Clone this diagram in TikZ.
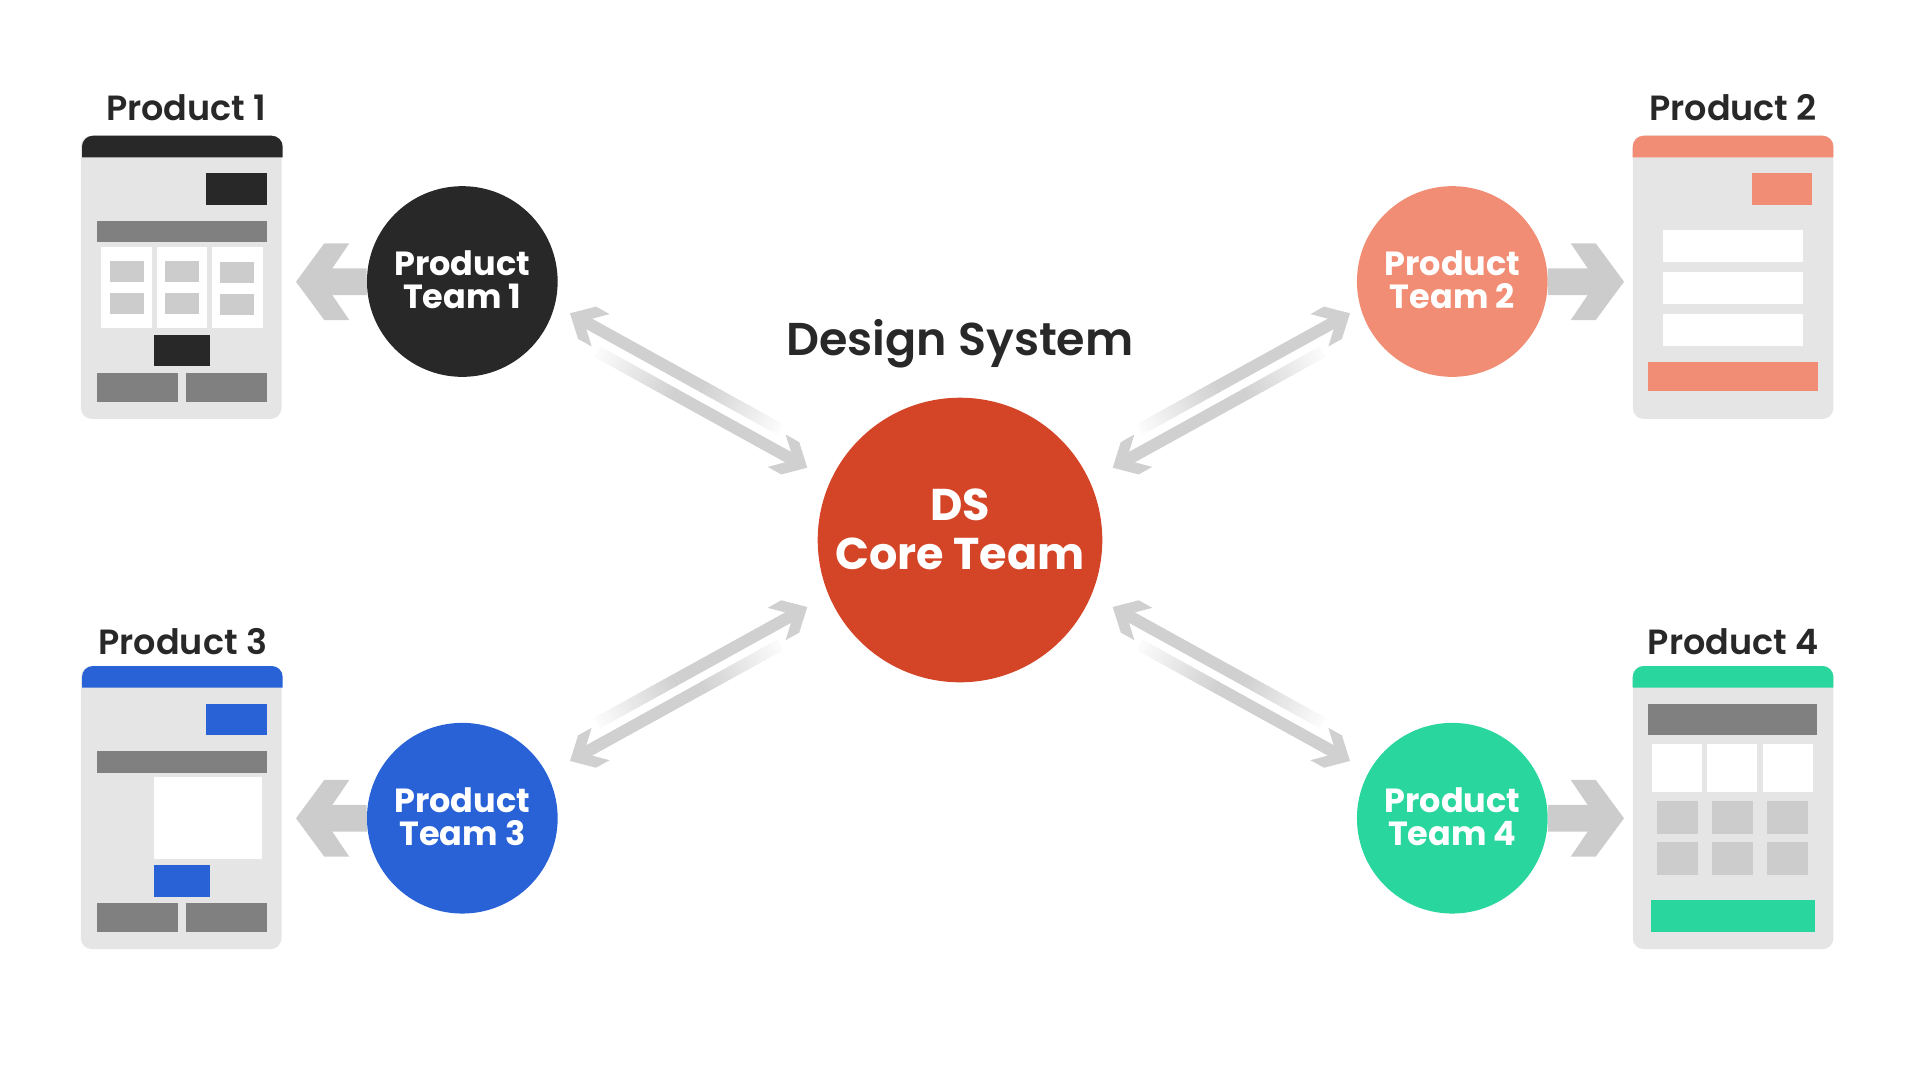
\documentclass[tikz,border=0pt]{standalone}
\usepackage{fontspec}
\usepackage{xcolor}
\usetikzlibrary{positioning}
\usetikzlibrary{calc}
\newfontfamily\headfont{Poppins}[UprightFont=* SemiBold]
\newfontfamily\teamfont{Poppins}[UprightFont=* Bold]
\definecolor{inkblack}{HTML}{282828}
\definecolor{teamorange}{HTML}{F18D74}
\definecolor{teamblue}{HTML}{2962D6}
\definecolor{teamgreen}{HTML}{29D69D}
\definecolor{corered}{HTML}{D44527}
\definecolor{pagegray}{HTML}{E5E5E5}
\definecolor{bargray}{HTML}{808080}
\definecolor{cellgray}{HTML}{CCCCCC}
\definecolor{linkgray}{HTML}{D0D0D0}
\tikzset{
linkhead/.pic={\fill[linkgray] (0,0) -- (19.5,-18.5) -- (35,-18.5) -- (22,-6) -- (22,6) -- (35,18.5) -- (19.5,18.5) -- cycle;},
teamhead/.pic={\fill[cellgray] (-36.3,0) -- (-8,-38.4) -- (17,-38.4) -- (0,-13.3) -- (0,13.3) -- (17,38.4) -- (-8,38.4) -- cycle;},
}
\newcommand{\linkarrow}[3]{%
\draw[linkshaft] (#1) -- ($(#1)!0.62!(#2)$);
\foreach \s in {0,...,23} {
\pgfmathsetmacro{\fa}{0.62+0.38*\s/24}
\pgfmathsetmacro{\fb}{min(1,0.62+0.38*(\s+1.4)/24)}
\pgfmathsetmacro{\tone}{100-92*\s/23}
\draw[linkfade, draw=linkgray!\tone!white] ($(#1)!\fa!(#2)$) -- ($(#1)!\fb!(#2)$);
}
\pic[rotate=#3] at (#1) {linkhead};
}
\newcommand{\pagehead}[3]{%
\fill[#1] (#2,#3+21.6) [rounded corners=11pt] -- (#2,#3) -- (#2+200.7,#3) [sharp corners] -- (#2+200.7,#3+21.6) -- cycle;
}
\begin{document}
\begin{tikzpicture}[
x=1pt, y=-1pt,
corenode/.style={circle, fill=corered, text=white, minimum size=284.6pt, inner sep=0pt, align=center, text depth=22pt, font=\teamfont\fontsize{44.5}{48.3}\selectfont},
teamnode/.style={circle, text=white, minimum size=190.7pt, inner sep=0pt, align=center, text depth=3.5pt, font=\teamfont\fontsize{33.5}{33.3}\selectfont},
pagenode/.style={rectangle, fill=pagegray, rounded corners=11pt, minimum width=200.7pt, minimum height=283.3pt, inner sep=0pt},
titlenode/.style={text=inkblack, inner sep=0pt, font=\headfont\fontsize{35}{38}\selectfont},
linkshaft/.style={draw=linkgray, line width=12pt, shorten <=21pt},
linkfade/.style={line width=12pt},
teamlink/.style={draw=cellgray, line width=26.7pt, shorten >=-5pt},
barfill/.style={fill=bargray},
cellfill/.style={fill=cellgray},
whitefill/.style={fill=white},
]
\useasboundingbox (0,0) rectangle (1920,1080);

%Nodes
\node[corenode]							(core)		at (960,540)		{DS\\Core Team};
\node[text=inkblack, inner sep=0pt, anchor=base, font=\headfont\fontsize{46}{48}\selectfont] (dstitle) at (960,355) {Design System};
\node[teamnode, fill=inkblack]			(team1)		at (462.3,281.5)	{Product\\Team 1};
\node[teamnode, fill=teamorange]		(team2)		at (1452.3,281.5)	{Product\\Team 2};
\node[teamnode, fill=teamblue]			(team3)		at (462.3,818.2)	{Product\\Team 3};
\node[teamnode, fill=teamgreen]			(team4)		at (1452.3,818.2)	{Product\\Team 4};
\node[pagenode]		(page1)		[left=85pt of team1, yshift=4.2pt]		{};
\node[pagenode]		(page2)		[right=84.7pt of team2, yshift=4.2pt]	{};
\node[pagenode]		(page3)		[left=85pt of team3, yshift=10.7pt]		{};
\node[pagenode]		(page4)		[right=84.7pt of team4, yshift=10.7pt]	{};
\node[titlenode]	(title1)	[above=14.2pt of page1, xshift=5pt]		{Product 1};
\node[titlenode]	(title2)	[above=14.2pt of page2]					{Product 2};
\node[titlenode]	(title3)	[above=10.5pt of page3, xshift=1.5pt]	{Product 3};
\node[titlenode]	(title4)	[above=10.5pt of page4]					{Product 4};

\coordinate (head1) at (332.3,281.7);
\coordinate (head2) at (1587.7,281.7);
\coordinate (head3) at (332.3,818.3);
\coordinate (head4) at (1587.7,818.3);

%Team arrows
\foreach \t in {1,...,4} {\draw[teamlink] (team\t) -- (head\t);}
\pic at (head1) {teamhead};
\pic[rotate=180] at (head2) {teamhead};
\pic at (head3) {teamhead};
\pic[rotate=180] at (head4) {teamhead};

%Core arrows
\coordinate (t1tip) at (570,313.3);		\coordinate (t1end) at (780,429.3);
\coordinate (c1tip) at (807.3,467.7);	\coordinate (c1end) at (597.3,351.7);
\coordinate (t2tip) at (1350,313.3);	\coordinate (t2end) at (1140,429.3);
\coordinate (c2tip) at (1112.7,467.7);	\coordinate (c2end) at (1322.7,351.7);
\coordinate (t3tip) at (570,761);		\coordinate (t3end) at (780,645);
\coordinate (c3tip) at (807.3,607);		\coordinate (c3end) at (597.3,723);
\coordinate (t4tip) at (1350,761);		\coordinate (t4end) at (1140,645);
\coordinate (c4tip) at (1112.7,607);	\coordinate (c4end) at (1322.7,723);
\linkarrow{t1tip}{t1end}{-29}
\linkarrow{c1tip}{c1end}{151}
\linkarrow{t2tip}{t2end}{209}
\linkarrow{c2tip}{c2end}{29}
\linkarrow{t3tip}{t3end}{29}
\linkarrow{c3tip}{c3end}{209}
\linkarrow{t4tip}{t4end}{151}
\linkarrow{c4tip}{c4end}{-29}

%Page 1
\pagehead{inkblack}{82}{135.7}
\fill[inkblack] (206,173) rectangle (266.7,205);
\fill[barfill] (96.7,221) rectangle (267,242.3);
\fill[whitefill] (101.3,247) rectangle (152,328.3);
\fill[whitefill] (157,247) rectangle (207,328.3);
\fill[whitefill] (212,247) rectangle (262.7,328.3);
\foreach \cx/\dy in {110/0,165/0,220/0.7} {
\fill[cellfill] (\cx,261+\dy) rectangle (\cx+34,282+\dy);
\fill[cellfill] (\cx,293.3+\dy) rectangle (\cx+34,314.3+\dy);
}
\fill[inkblack] (154,334.7) rectangle (209.7,366.3);
\fill[barfill] (96.7,372.7) rectangle (178,401.7);
\fill[barfill] (186,372.7) rectangle (266.7,401.7);

%Page 2
\pagehead{teamorange}{1632.7}{135.7}
\fill[teamorange] (1751.7,173) rectangle (1812.3,205);
\foreach \ry in {230,272,314} {\fill[whitefill] (1662.7,\ry) rectangle (1802.7,\ry+31.7);}
\fill[teamorange] (1648,362.3) rectangle (1817.7,391.3);

%Page 3
\pagehead{teamblue}{82}{666}
\fill[teamblue] (206,703.7) rectangle (266.7,735.3);
\fill[barfill] (96.7,751.3) rectangle (267,772.7);
\fill[whitefill] (154,777.3) rectangle (262,858.7);
\fill[teamblue] (154,865.3) rectangle (209.7,896.7);
\fill[barfill] (96.7,903.3) rectangle (178,932.3);
\fill[barfill] (186,903.3) rectangle (266.7,932.3);

%Page 4
\pagehead{teamgreen}{1632.7}{666}
\fill[barfill] (1648.3,703.7) rectangle (1817,735.3);
\foreach \wx in {1652.3,1707.3,1762.5} {\fill[whitefill] (\wx,743.7) rectangle (\wx+50,792.3);}
\foreach \cx in {1657.3,1712.3,1767.3} {
\fill[cellfill] (\cx,800.7) rectangle (\cx+40.3,833.7);
\fill[cellfill] (\cx,842.3) rectangle (\cx+40.3,875);
}
\fill[teamgreen] (1651,900) rectangle (1814.7,931.7);
\end{tikzpicture}
\end{document}
